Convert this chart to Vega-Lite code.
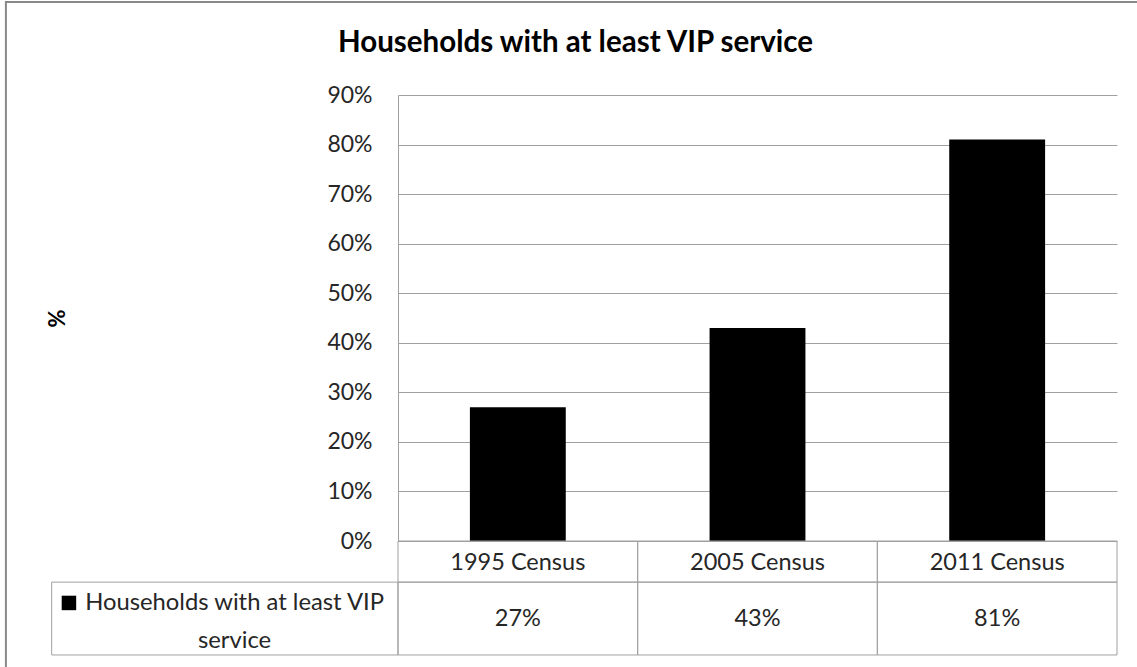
{
  "$schema": "https://vega.github.io/schema/vega-lite/v6.json",
  "width": 719,
  "height": 446,
  "autosize": "none",
  "padding": {"left": 398, "top": 95, "right": 20, "bottom": 126},
  "background": "white",
  "config": {
    "font": "Lato",
    "view": {"stroke": null}
  },
  "title": {
    "text": "Households with at least VIP service",
    "font": "Lato",
    "fontSize": 29.5,
    "fontWeight": "bold",
    "color": "#000000",
    "frame": "group",
    "anchor": "middle",
    "dx": -182,
    "baseline": "alphabetic",
    "offset": 0,
    "dy": 81
  },
  "data": {
    "values": [
      {"census": "1995 Census", "share": 0.27},
      {"census": "2005 Census", "share": 0.43},
      {"census": "2011 Census", "share": 0.81}
    ]
  },
  "encoding": {
    "x": {
      "field": "census",
      "type": "nominal",
      "sort": null,
      "scale": {"paddingInner": 0, "paddingOuter": 0},
      "axis": {
        "title": null,
        "domain": false,
        "ticks": false,
        "labelAngle": 0,
        "labelFont": "Lato",
        "labelFontSize": 23.5,
        "labelColor": "#262626",
        "labelBaseline": "middle",
        "labelPadding": 21
      }
    }
  },
  "layer": [
    {
      "mark": {"type": "bar", "color": "#000000", "width": {"band": 0.4}},
      "encoding": {
        "y": {
          "field": "share",
          "type": "quantitative",
          "scale": {"domain": [0, 0.9], "nice": false},
          "axis": {
            "title": "%",
            "titleFont": "Lato",
            "titleFontSize": 22,
            "titleFontWeight": "bold",
            "titleColor": "#000000",
            "titleX": -341,
            "titleBaseline": "middle",
            "titleAlign": "center",
            "values": [0, 0.1, 0.2, 0.3, 0.4, 0.5, 0.6, 0.7, 0.8, 0.9],
            "format": ".0%",
            "grid": true,
            "gridColor": "#A0A0A0",
            "gridWidth": 1,
            "domain": true,
            "domainColor": "#A0A0A0",
            "ticks": false,
            "tickSize": 0,
            "labelPadding": 26,
            "labelFont": "Lato",
            "labelFontSize": 23,
            "labelColor": "#262626"
          }
        }
      }
    },
    {
      "mark": {"type": "rect", "fill": null, "fillOpacity": 0, "stroke": "#A0A0A0", "strokeWidth": 1},
      "encoding": {
        "y": {"datum": 0, "type": "quantitative"},
        "y2": {"datum": -0.083}
      }
    },
    {
      "mark": {"type": "rect", "fill": null, "fillOpacity": 0, "stroke": "#A0A0A0", "strokeWidth": 1},
      "encoding": {
        "y": {"datum": -0.083, "type": "quantitative"},
        "y2": {"datum": -0.23}
      }
    },
    {
      "mark": {"type": "text", "font": "Lato", "fontSize": 23.5, "color": "#262626", "baseline": "middle", "align": "center"},
      "encoding": {
        "y": {"datum": -0.1565, "type": "quantitative"},
        "text": {"field": "share", "type": "quantitative", "format": ".0%"}
      }
    },
    {
      "data": {"values": [{"series": "Households with at least VIP service"}]},
      "mark": {"type": "rect", "fill": null, "fillOpacity": 0, "stroke": "#A0A0A0", "strokeWidth": 1},
      "encoding": {
        "x": {"datum": "1995 Census", "bandPosition": -1.445},
        "x2": {"datum": "1995 Census", "bandPosition": 0},
        "y": {"datum": -0.083, "type": "quantitative"},
        "y2": {"datum": -0.23}
      }
    },
    {
      "data": {"values": [{"series": "Households with at least VIP service"}]},
      "mark": {"type": "point", "shape": "square", "filled": true, "color": "#000000", "opacity": 1, "size": 210},
      "encoding": {
        "x": {"datum": "1995 Census", "bandPosition": -1.373},
        "y": {"datum": -0.125, "type": "quantitative"}
      }
    },
    {
      "data": {"values": [{"series": "Households with at least VIP service"}]},
      "mark": {"type": "text", "font": "Lato", "fontSize": 23.8, "color": "#262626", "baseline": "middle", "align": "center", "lineHeight": 38, "lineBreak": "\n"},
      "encoding": {
        "x": {"datum": "1995 Census", "bandPosition": -0.682},
        "y": {"datum": -0.125, "type": "quantitative"},
        "text": {"value": "Households with at least VIP\nservice"}
      }
    },
    {
      "data": {"values": [{"series": "frame"}]},
      "mark": {"type": "rect", "fill": null, "fillOpacity": 0, "stroke": "#898989", "strokeWidth": 2},
      "encoding": {
        "x": {"datum": "1995 Census", "bandPosition": -1.636},
        "x2": {"datum": "1995 Census", "bandPosition": 3.1},
        "y": {"datum": 1.0877, "type": "quantitative"},
        "y2": {"datum": -0.26}
      }
    }
  ]
}
